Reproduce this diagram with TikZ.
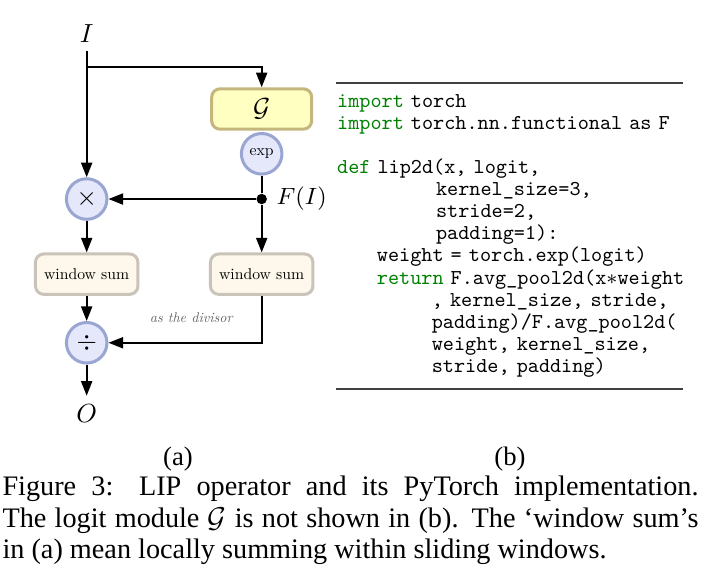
\documentclass[tikz,border=0pt]{standalone}
\usepackage{amsmath,amssymb}
\usepackage{fontspec}
\usepackage{tikz}
\usetikzlibrary{arrows.meta,positioning}
\newfontfamily\capfont{Liberation Serif}
\newfontfamily\diagrm{lmroman10-regular}[Extension=.otf, ItalicFont=lmroman10-italic]
\newfontfamily\codett{lmmono10-regular}[Extension=.otf]
\definecolor{lipyel}{RGB}{255,255,194}
\definecolor{lipyeld}{RGB}{196,182,124}
\definecolor{lipblu}{RGB}{229,231,250}
\definecolor{lipblud}{RGB}{154,166,210}
\definecolor{lipsum}{RGB}{253,248,235}
\definecolor{lipsumd}{RGB}{201,195,186}
\definecolor{codegrn}{RGB}{0,128,0}
\definecolor{divgray}{RGB}{100,100,100}
\newcommand{\kw}[1]{\textcolor{codegrn}{#1}}
\tikzset{
  flowarr/.style={-{Triangle[length=5.6pt,width=4.2pt]}, thick},
  flowln/.style={thick},
  opc/.style={circle, draw=lipblud, fill=lipblu, line width=1.15pt,
              minimum size=0.545cm, inner sep=0pt},
  logitblk/.style={draw=lipyeld, fill=lipyel, line width=1.15pt, rounded corners=3.2pt,
              minimum width=1.344cm, minimum height=0.543cm},
  sumblk/.style={draw=lipsumd, fill=lipsum, line width=1.15pt, rounded corners=3.2pt,
              minimum width=1.344cm, minimum height=0.543cm, font=\diagrm\fontsize{6}{7}\selectfont},
  bdot/.style={circle, fill=black, inner sep=0pt, minimum size=4pt},
  divlab/.style={font=\diagrm\fontsize{5.4}{6}\selectfont\itshape, text=divgray},
  codetxt/.style={font=\codett\fontsize{8.1}{8.45}\selectfont, text width=5cm,
              align=left, inner sep=0pt, anchor=base west},
  coderule/.style={black!75, line width=0.7pt},
  subcap/.style={font=\capfont\fontsize{10.2}{12}\selectfont, inner sep=0pt, anchor=base},
  figcap/.style={font=\capfont\fontsize{10.8}{12}\selectfont, text width=9.354cm,
              align=justify, inner sep=0pt, anchor=base west},
}

\begin{document}
\begin{tikzpicture}
    \useasboundingbox (0,0) rectangle (9.502,7.782);
    \node (inp) at (1.165,7.334) {$I$};
    \coordinate (split) at (1.165,6.885);
    \node[logitblk] (logit) at (3.517,6.317) {$\mathcal{G}$};
    \node[opc, font=\diagrm\fontsize{6}{7}\selectfont] (expn) at (3.517,5.715) {exp};
    \node[bdot] (fdot) at (3.517,5.107) {};
    \node[right=0pt of fdot, font=\fontsize{9.5}{11}\selectfont] (flab) {$F(I)$};
    \node[opc] (mul) at (1.165,5.107) {$\times$};
    \node[sumblk] (wsl) at (1.165,4.097) {window sum};
    \node[sumblk] (wsr) at (3.517,4.097) {window sum};
    \node[opc] (div) at (1.165,3.175) {$\div$};
    \node (outp) at (1.165,2.218) {$O$};
    \draw[flowarr] (inp) -- (mul);
    \draw[flowarr] (split) -| (logit);
    \draw[flowln] (expn) -- (fdot);
    \draw[flowarr] (fdot) -- (mul);
    \draw[flowarr] (fdot) -- (wsr);
    \draw[flowarr] (mul) -- (wsl);
    \draw[flowarr] (wsl) -- (div);
    \draw[flowarr] (wsr) |- node[divlab, above=3.8pt, pos=0.73] {as the divisor} (div);
    \draw[flowarr] (div) -- (outp);
    \draw[coderule] (4.516,6.662) -- (9.180,6.662);
    \node[codetxt] (code) at (4.525,6.340)
      {\kw{import} torch\\
       \kw{import} torch.nn.functional as F\\
       \mbox{}\\
       \kw{def} lip2d(x, logit,\\
       \hspace*{37.8pt}kernel\_size=3,\\
       \hspace*{37.8pt}stride=2,\\
       \hspace*{37.8pt}padding=1):\\
       \hspace*{15.2pt}weight = torch.exp(logit)\\
       \hspace*{15.2pt}\kw{return} F.avg\_pool2d(x$\ast$weight\\
       \hspace*{36.2pt}, kernel\_size, stride,\\
       \hspace*{36.2pt}padding)/F.avg\_pool2d(\\
       \hspace*{36.2pt}weight, kernel\_size,\\
       \hspace*{36.2pt}stride, padding)};
    \draw[coderule] (4.516,2.550) -- (9.180,2.550);
    \node[subcap] (capa) at (2.392,1.532) {(a)};
    \node[subcap] (capb) at (6.854,1.532) {(b)};
    \node[figcap] (cap) at (0.027,1.116)
      {Figure 3: LIP operator and its PyTorch implementation.\linebreak
       The logit module $\mathcal{G}$ is not shown in (b). The ‘window sum’s\linebreak
       in (a) mean locally summing within sliding windows.};
  \end{tikzpicture}
\end{document}
